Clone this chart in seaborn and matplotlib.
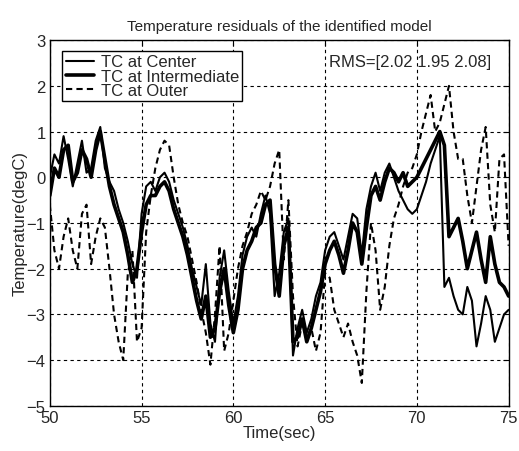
import numpy as np
import pandas as pd
import seaborn as sns
import matplotlib
matplotlib.use("Agg")
import matplotlib.pyplot as plt

# sample times (s)
time = np.round(np.arange(50.0, 75.001, 0.25), 2)

center = [0.0, 0.5, 0.3, 0.9, 0.4, -0.2, 0.3, 0.8, 0.1, 0.2,
          0.8, 1.1, 0.2, -0.1, -0.3, -0.7, -1.0, -1.4, -1.9, -2.2,
          -0.8, -0.2, -0.1, -0.3, 0.0, 0.1, -0.1, -0.5, -0.8, -1.1,
          -1.5, -2.0, -2.4, -2.8, -1.9, -3.2, -3.6, -2.2, -1.6, -2.5,
          -3.2, -2.6, -1.7, -1.3, -1.1, -1.3, -0.8, -0.4, -0.8, -2.6,
          -2.1, -1.2, -0.9, -3.9, -3.3, -2.9, -3.4, -3.1, -2.6, -2.3,
          -1.6, -1.3, -1.2, -1.5, -1.8, -1.3, -0.8, -0.9, -1.7, -0.7,
          -0.2, 0.1, -0.3, 0.1, 0.3, 0.0, -0.3, -0.5, -0.7, -0.8,
          -0.7, -0.4, -0.1, 0.3, 0.6, 0.9, -2.4, -2.2, -2.6, -2.9,
          -3.0, -2.4, -2.7, -3.7, -3.2, -2.6, -2.9, -3.6, -3.3, -3.0,
          -2.9]

intermediate = [-0.4, 0.2, 0.0, 0.6, 0.7, -0.1, 0.1, 0.6, 0.4, 0.0,
                0.6, 1.0, 0.4, -0.2, -0.6, -0.9, -1.2, -1.7, -2.3, -2.0,
                -1.2, -0.6, -0.4, -0.4, -0.2, -0.1, -0.3, -0.7, -1.0, -1.3,
                -1.7, -2.2, -2.7, -3.1, -2.6, -3.5, -3.3, -2.5, -2.0, -2.8,
                -3.4, -2.9, -2.0, -1.6, -1.4, -1.1, -1.0, -0.6, -0.5, -1.9,
                -2.6, -1.5, -1.1, -3.6, -3.5, -3.1, -3.6, -3.3, -2.9, -2.5,
                -1.9, -1.6, -1.4, -1.7, -2.1, -1.6, -1.0, -1.2, -1.9, -1.1,
                -0.4, -0.2, -0.5, -0.1, 0.2, 0.1, -0.1, 0.1, -0.2, -0.1,
                0.0, 0.2, 0.4, 0.6, 0.8, 1.0, 0.7, -1.3, -1.1, -0.9,
                -1.4, -2.0, -1.6, -1.2, -1.8, -2.3, -1.3, -1.9, -2.3, -2.4,
                -2.6]

outer = [-0.6, -1.6, -2.0, -1.3, -0.9, -1.6, -2.0, -0.8, -0.6, -1.9,
         -1.3, -0.9, -1.1, -2.0, -3.0, -3.6, -4.0, -2.1, -1.6, -3.6,
         -3.3, -1.2, -0.4, 0.2, 0.6, 0.8, 0.7, 0.0, -0.6, -1.0,
         -1.3, -1.8, -2.3, -2.9, -3.4, -4.1, -3.0, -1.5, -3.8, -3.4,
         -2.7, -2.0, -1.5, -1.2, -0.8, -0.6, -0.3, -0.5, -0.2, 0.3,
         0.6, -1.8, -0.5, -2.6, -3.7, -3.2, -3.5, -3.3, -3.8, -3.4,
         -2.1, -2.2, -2.9, -3.2, -3.5, -3.2, -3.6, -3.9, -4.5, -2.5,
         -1.0, -1.6, -2.9, -2.4, -1.5, -0.9, -0.6, -0.2, 0.1, 0.2,
         0.5, 1.0, 1.4, 1.8, 1.0, 1.2, 1.6, 2.0, 1.0, 0.4,
         0.4, -0.4, -1.0, -0.2, 0.6, 1.1, -0.6, -1.2, 0.4, 0.5,
         -1.5]

labels = ["TC at Center", "TC at Intermediate", "TC at Outer"]
rms_text = "RMS=[2.02 1.95 2.08]"
title = "Temperature residuals of the identified model"
xticks = [50, 55, 60, 65, 70, 75]
yticks = [-5, -4, -3, -2, -1, 0, 1, 2, 3]

sns.set_style("white")
plt.rcParams['font.family'] = ['Liberation Sans', 'DejaVu Sans']

fig = plt.figure(figsize=(5.19, 4.52), dpi=100)
ax = fig.add_axes([0.096, 0.1, 0.884, 0.809])

sns.lineplot(x=time, y=center, ax=ax, color="black", lw=1.5, label=labels[0])
sns.lineplot(x=time, y=intermediate, ax=ax, color="black", lw=2.6, label=labels[1])
sns.lineplot(x=time, y=outer, ax=ax, color="black", lw=1.5, ls=(0, (3, 2)), label=labels[2])

ax.set_xlim(50, 75)
ax.set_ylim(-5, 3)
ax.set_xticks(xticks)
ax.set_yticks(yticks)
ax.tick_params(direction="in", top=True, right=True, labelsize=12, length=4,
               color="black")
ax.tick_params(axis="x", pad=3)
ax.tick_params(axis="y", pad=3)
ax.grid(True, color="black", ls=(0, (3, 3)), lw=0.8)
for s in ax.spines.values():
    s.set_color("black")
    s.set_linewidth(1.0)

ax.set_title(title, fontsize=11, pad=7)
ax.set_xlabel("Time(sec)", fontsize=12, labelpad=0)
ax.set_ylabel("Temperature(degC)", fontsize=12, labelpad=-1)

ax.text(65.2, 2.54, rms_text, fontsize=12, va="center", ha="left")

leg = ax.legend(loc="upper left", bbox_to_anchor=(0.027, 0.97), fontsize=12,
                frameon=True, fancybox=False, edgecolor="black", framealpha=1,
                handlelength=1.7, handletextpad=0.4, borderpad=0.2, labelspacing=-0.05,
                borderaxespad=0)
leg.get_frame().set_linewidth(1.0)

fig.savefig("out.png", dpi=100, facecolor="white")
